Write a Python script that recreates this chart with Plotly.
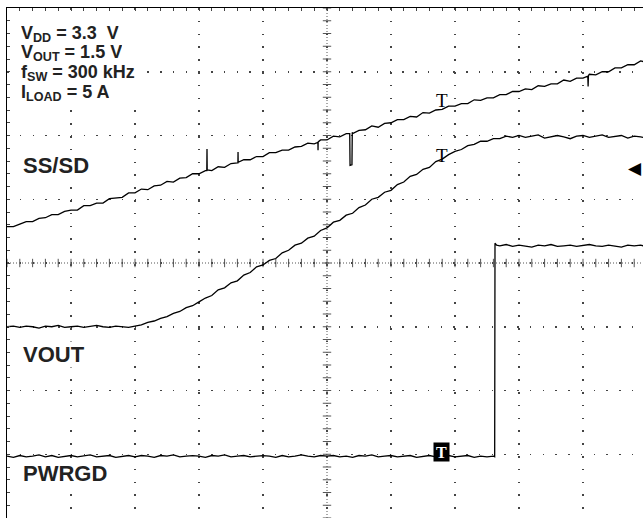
import numpy as np
import pandas as pd
import plotly.graph_objects as go

# ---------------- data (time and amplitude in scope divisions) ----------------
sample_times = np.round(-5.0 + 0.1 * np.arange(100), 2)

ss_values = [
    0.57, 0.57, 0.61, 0.65, 0.65, 0.70, 0.71, 0.76, 0.76, 0.81,
    0.83, 0.83, 0.90, 0.90, 0.94, 0.94, 1.01, 1.02, 1.03, 1.10,
    1.10, 1.16, 1.15, 1.21, 1.22, 1.28, 1.27, 1.33, 1.34, 1.40,
    1.40, 1.45, 1.45, 1.51, 1.50, 1.56, 1.57, 1.62, 1.62, 1.67,
    1.67, 1.73, 1.73, 1.77, 1.77, 1.82, 1.83, 1.88, 1.87, 1.93,
    1.93, 1.99, 1.98, 2.03, 2.03, 2.08, 2.09, 2.15, 2.13, 2.19,
    2.20, 2.25, 2.25, 2.30, 2.29, 2.36, 2.35, 2.40, 2.41, 2.46,
    2.46, 2.50, 2.50, 2.56, 2.55, 2.59, 2.59, 2.64, 2.64, 2.69,
    2.69, 2.73, 2.72, 2.78, 2.77, 2.81, 2.81, 2.87, 2.85, 2.90,
    2.90, 2.96, 2.95, 3.00, 3.00, 3.06, 3.06, 3.11, 3.11, 3.17,
]
ss_extra_t = [-1.878, -1.875, -1.872, -1.392, -1.390, -1.388, -0.142, -0.140, -0.138,
              0.355, 0.360, 0.390, 0.395, 4.075, 4.080, 4.085, 4.94]
ss_extra_v = [1.45, 1.79, 1.46, 1.57, 1.74, 1.58, 1.89, 1.77, 1.90,
              2.03, 1.53, 1.54, 2.05, 2.93, 2.77, 2.94, 3.16]

vout_values = [
    -1.00, -0.99, -1.01, -0.99, -1.00, -1.02, -0.99, -1.00, -0.98, -1.01,
    -1.00, -0.99, -1.01, -1.00, -0.98, -1.00, -1.01, -0.99, -1.00, -1.01,
    -0.99, -0.97, -0.93, -0.91, -0.87, -0.84, -0.79, -0.76, -0.70, -0.67,
    -0.61, -0.55, -0.51, -0.42, -0.39, -0.31, -0.28, -0.19, -0.15, -0.06,
    -0.03, 0.04, 0.07, 0.16, 0.20, 0.28, 0.31, 0.39, 0.42, 0.51,
    0.55, 0.64, 0.67, 0.75, 0.78, 0.87, 0.91, 1.00, 1.03, 1.11,
    1.14, 1.23, 1.27, 1.36, 1.39, 1.47, 1.50, 1.59, 1.63, 1.70,
    1.75, 1.78, 1.84, 1.86, 1.91, 1.91, 1.95, 1.95, 1.99, 1.97,
    2.00, 1.97, 1.99, 2.01, 1.96, 1.98, 2.00, 1.98, 1.95, 1.99,
    2.00, 1.97, 1.99, 2.01, 1.97, 1.98, 2.00, 1.96, 1.99, 1.98,
]
vout_extra_t = [4.94]
vout_extra_v = [1.97]

pwrgd_values = [
    -3.03, -3.05, -3.02, -3.04, -3.03, -3.01, -3.04, -3.02, -3.05, -3.03,
    -3.02, -3.04, -3.03, -3.01, -3.04, -3.03, -3.02, -3.05, -3.03, -3.02,
    -3.04, -3.02, -3.03, -3.05, -3.02, -3.03, -3.01, -3.04, -3.03, -3.02,
    -3.03, -3.05, -3.02, -3.03, -3.01, -3.04, -3.03, -3.02, -3.04, -3.03,
    -3.02, -3.03, -3.05, -3.02, -3.04, -3.03, -3.01, -3.03, -3.04, -3.02,
    -3.03, -3.02, -3.04, -3.03, -3.05, -3.02, -3.03, -3.01, -3.04, -3.03,
    -3.02, -3.04, -3.03, -3.02, -3.05, -3.03, -3.02, -3.04, -3.03, -3.02,
    -3.04, -3.03, -3.02, -3.05, -3.03, -3.04, -3.03, 0.27, 0.29, 0.26,
    0.28, 0.27, 0.25, 0.28, 0.27, 0.29, 0.26, 0.27, 0.28, 0.26,
    0.27, 0.29, 0.27, 0.26, 0.28, 0.27, 0.25, 0.28, 0.27, 0.28,
]
pwrgd_extra_t = [2.62, 2.625, 2.65, 4.94]
pwrgd_extra_v = [-3.04, 0.31, 0.28, 0.27]

channel_labels = ["SS/SD", "VOUT", "PWRGD"]
label_pos = [(-4.77, 1.53), (-4.77, -1.44), (-4.77, -3.30)]
conditions = ["V<sub>DD</sub> = 3.3\u00a0\u00a0V", "V<sub>OUT</sub> = 1.5 V",
              "f<sub>SW</sub> = 300 kHz", "I<sub>LOAD</sub> = 5 A"]
cond_y = [3.60, 3.29, 2.98, 2.67]


def merged(base_v, extra_t, extra_v):
    df = pd.DataFrame({"t": np.concatenate([sample_times, extra_t]),
                       "v": np.concatenate([base_v, extra_v])})
    df = df.sort_values("t", kind="stable")
    return df["t"].to_numpy(), df["v"].to_numpy()


fig = go.Figure()

# centre graticule lines (dense dotted) with minor-division crosses
fig.add_shape(type="line", x0=0, x1=0, y0=-4, y1=4, xref="x", yref="y",
              line=dict(color="#555", width=1, dash="1px,2px"), layer="below")
fig.add_shape(type="line", x0=-5, x1=5, y0=0, y1=0, xref="x", yref="y",
              line=dict(color="#555", width=1, dash="1px,2px"), layer="below")
# white box behind the operating-condition text
fig.add_shape(type="rect", x0=-4.85, x1=-2.95, y0=2.45, y1=3.80, xref="x", yref="y",
              line=dict(width=0), fillcolor="white", layer="between")
minor_y = np.round(np.arange(-4, 4.001, 0.2), 2)
minor_x = np.round(np.arange(-5, 5.001, 0.2), 2)
fig.add_trace(go.Scatter(x=np.zeros_like(minor_y), y=minor_y, mode="markers",
                         marker=dict(symbol="line-ew", size=6, line=dict(width=1, color="#555")),
                         hoverinfo="skip", showlegend=False))
fig.add_trace(go.Scatter(x=minor_x, y=np.zeros_like(minor_x), mode="markers",
                         marker=dict(symbol="line-ns", size=6, line=dict(width=1, color="#555")),
                         hoverinfo="skip", showlegend=False))

for vals, et, ev in [(ss_values, ss_extra_t, ss_extra_v),
                     (vout_values, vout_extra_t, vout_extra_v),
                     (pwrgd_values, pwrgd_extra_t, pwrgd_extra_v)]:
    t, v = merged(vals, et, ev)
    fig.add_trace(go.Scatter(x=t, y=v, mode="lines",
                             line=dict(color="black", width=1.3),
                             hoverinfo="skip", showlegend=False))

annotations = []
for text, (lx, ly) in zip(channel_labels, label_pos):
    annotations.append(dict(x=lx, y=ly, xref="x", yref="y", text="<b>%s</b>" % text,
                            showarrow=False, xanchor="left", yanchor="middle",
                            bgcolor="white", borderpad=0,
                            font=dict(family="Liberation Sans, Arial", size=22, color="#222")))
for text, cy in zip(conditions, cond_y):
    annotations.append(dict(x=-4.80, y=cy, xref="x", yref="y", text="<b>%s</b>" % text,
                            showarrow=False, xanchor="left", yanchor="middle", borderpad=0,
                            height=18, valign="middle",
                            font=dict(family="Liberation Sans, Arial", size=18, color="#222")))
# trigger markers
for ty in [2.45, 1.58]:
    annotations.append(dict(x=1.80, y=ty, xref="x", yref="y", text="T", showarrow=False,
                            xanchor="center", yanchor="bottom", yshift=-5, borderpad=0,
                            font=dict(family="Liberation Serif", size=19, color="black")))
annotations.append(dict(x=1.79, y=-2.965, xref="x", yref="y", text="<b>T</b>", showarrow=False,
                        xanchor="center", yanchor="middle", width=15, height=18,
                        bgcolor="black", borderpad=0,
                        font=dict(family="Liberation Serif", size=16, color="white")))
# ground reference arrow
annotations.append(dict(x=4.9375, y=1.49, xref="x", yref="y", text="\u25C0", showarrow=False,
                        xanchor="right", yanchor="middle", borderpad=0,
                        font=dict(family="DejaVu Sans", size=17, color="black")))

axis_common = dict(showticklabels=False, zeroline=False, showgrid=True,
                   gridcolor="#444", gridwidth=1.5, dtick=1, tick0=0,
                   ticks="inside", ticklen=3, tickcolor="#444", tickwidth=1,
                   minor=dict(dtick=0.2, ticks="inside", ticklen=3, tickcolor="#444",
                              showgrid=False),
                   showline=True, linecolor="black", linewidth=1.5, fixedrange=True)

fig.update_layout(
    width=643, height=521,
    margin=dict(l=7, r=0, t=8, b=3),
    paper_bgcolor="white", plot_bgcolor="white",
    xaxis=dict(range=[-5, 4.9375], side="top", griddash="1.5px,11.3px", **axis_common),
    yaxis=dict(range=[-4, 4], side="left", griddash="1.5px,11.25px", **axis_common),
    annotations=annotations,
    showlegend=False,
)

fig.write_html("out.html", config={"staticPlot": True},
               post_script="document.body.style.margin='0';")
